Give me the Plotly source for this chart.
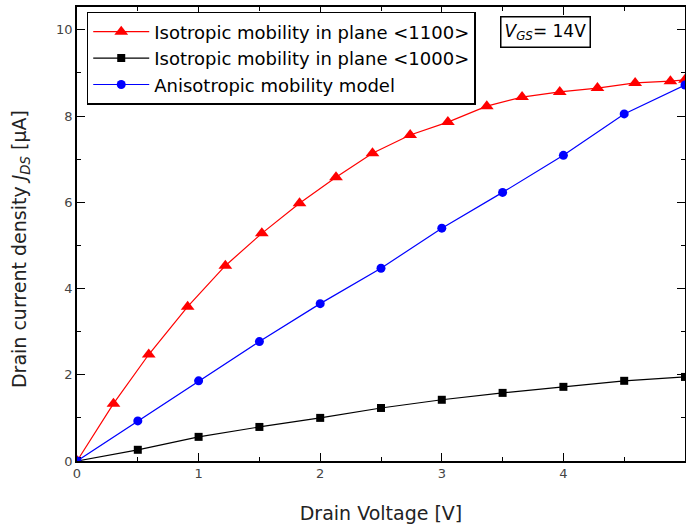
import plotly.graph_objects as go

red_x = [0, 0.30, 0.59, 0.91, 1.22, 1.52, 1.83, 2.13, 2.43, 2.74, 3.05, 3.37, 3.66, 3.97, 4.28, 4.59, 4.88, 5.0]
red_y = [0, 1.33, 2.47, 3.58, 4.53, 5.28, 5.98, 6.58, 7.14, 7.56, 7.86, 8.23, 8.44, 8.56, 8.65, 8.77, 8.81, 8.84]

blk_x = [0, 0.5, 1.0, 1.5, 2.0, 2.5, 3.0, 3.5, 4.0, 4.5, 5.0]
blk_y = [0, 0.26, 0.56, 0.79, 1.0, 1.23, 1.42, 1.58, 1.72, 1.86, 1.95]

blu_x = [0, 0.5, 1.0, 1.5, 2.0, 2.5, 3.0, 3.5, 4.0, 4.5, 5.0]
blu_y = [0, 0.93, 1.86, 2.77, 3.65, 4.47, 5.40, 6.23, 7.09, 8.05, 8.72]

names = ["Isotropic mobility in plane &lt;1100&gt;",
         "Isotropic mobility in plane &lt;1000&gt;",
         "Anisotropic mobility model"]

FONT = "DejaVu Sans, Liberation Sans, Arial"

fig = go.Figure()
fig.add_trace(go.Scatter(x=red_x, y=red_y, mode="lines+markers", name=names[0],
                         line=dict(color="#ff0000", width=1.2),
                         marker=dict(symbol="triangle-up", size=12, color="#ff0000")))
fig.add_trace(go.Scatter(x=blk_x, y=blk_y, mode="lines+markers", name=names[1],
                         line=dict(color="#000000", width=1.2),
                         marker=dict(symbol="square", size=8, color="#000000")))
fig.add_trace(go.Scatter(x=blu_x, y=blu_y, mode="lines+markers", name=names[2],
                         line=dict(color="#0000ff", width=1.2),
                         marker=dict(symbol="circle", size=9, color="#0000ff")))

axis_common = dict(showline=True, linecolor="#000", linewidth=1.5, mirror="allticks",
                   ticks="inside", ticklen=8, tickwidth=1.2, tickcolor="#000",
                   showgrid=False, zeroline=False, automargin=False,
                   tickfont=dict(family=FONT, size=13, color="#444"))

fig.update_xaxes(range=[0, 5], dtick=1, title=dict(text="Drain Voltage [V]", standoff=26,
                 font=dict(family=FONT, size=19, color="#222")),
                 minor=dict(ticks="inside", ticklen=4, dtick=0.5, tickcolor="#000"), **axis_common)
fig.update_yaxes(range=[0, 10.53], dtick=2,
                 minor=dict(ticks="inside", ticklen=4, dtick=1, tickcolor="#000"), **axis_common)

# y-axis title (placed as a rotated annotation to match the reference's offset)
fig.add_annotation(xref="paper", yref="paper", x=-0.092, y=0.467,
                   xanchor="center", yanchor="middle", textangle=-90,
                   text="Drain current density <i>J<sub>DS</sub></i> [μA]", showarrow=False,
                   font=dict(family=FONT, size=19, color="#222"))

fig.add_annotation(xref="paper", yref="paper", x=0.77, y=0.944,
                   xanchor="center", yanchor="middle",
                   text="<i>V<sub>GS</sub></i>= 14V", showarrow=False,
                   font=dict(family=FONT, size=17, color="#000"),
                   bordercolor="#000", borderwidth=1.5, borderpad=3, bgcolor="white")

fig.update_layout(
    width=686, height=526,
    margin=dict(l=77, r=1, t=7, b=65),
    paper_bgcolor="white", plot_bgcolor="white",
    legend=dict(x=0.016, y=0.989, xanchor="left", yanchor="top",
                bordercolor="#000", borderwidth=1.5, bgcolor="white",
                font=dict(family=FONT, size=18, color="#000"),
                tracegroupgap=0, itemwidth=56),
)

fig.write_html("out.html")
